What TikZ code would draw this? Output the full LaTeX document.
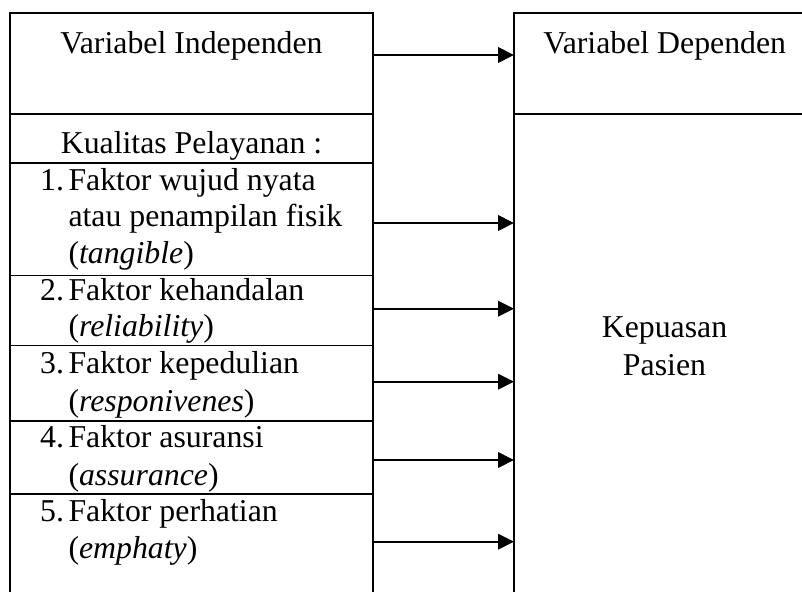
\documentclass[tikz,border=0pt]{standalone}
\usepackage{fontspec}
\setmainfont{Liberation Serif}
\usetikzlibrary{arrows.meta}
\begin{document}
\begin{tikzpicture}[x=1pt,y=-1pt,
  boxline/.style={line width=1.3pt,line cap=rect},
  conn/.style={line width=2pt,-{Triangle[length=16pt,width=15.5pt]}},
  txt/.style={inner sep=0pt,font=\fontsize{31.8}{36.8}\selectfont},
  lt/.style={txt,anchor=base west},
  ct/.style={txt,anchor=base}]
\useasboundingbox (0,0) rectangle (802,591);
% left column
\draw[boxline] (10,600) -- (10,13) -- (373,13) -- (373,600);
\draw[boxline] (10,114) -- (373,114);
\draw[boxline] (10,163) -- (373,163);
\draw[boxline] (10,275.7) -- (373,275.7);
\draw[boxline] (10,345.7) -- (373,345.7);
\draw[boxline] (10,421) -- (373,421);
\draw[boxline] (10,494) -- (373,494);
% right column
\draw[boxline] (514,600) -- (514,13) -- (810,13);
\draw[boxline] (514,114) -- (810,114);
% texts
\node[ct] (vi) at (191.5,53.3) {Variabel Independen};
\node[ct] (vd) at (664.7,53.3) {Variabel Dependen};
\node[ct] (kp) at (191.5,153.3) {Kualitas Pelayanan :};
\node[lt] (n1) at (40,190) {1.};
\node[lt] (a1) at (68.3,190) {Faktor wujud nyata};
\node[lt] (b1) at (68.3,226.5) {atau penampilan fisik};
\node[lt] (c1) at (68.3,263) {(\textit{tangible})};
\node[lt] (n2) at (40,300) {2.};
\node[lt] (a2) at (68.3,300) {Faktor kehandalan};
\node[lt] (b2) at (68.3,336.7) {(\textit{reliability})};
\node[lt] (n3) at (40,373.3) {3.};
\node[lt] (a3) at (68.3,373.3) {Faktor kepedulian};
\node[lt] (b3) at (68.3,411) {(\textit{responivenes})};
\node[lt] (n4) at (40,447.5) {4.};
\node[lt] (a4) at (68.3,447.5) {Faktor asuransi};
\node[lt] (b4) at (68.3,485) {(\textit{assurance})};
\node[lt] (n5) at (40,521.7) {5.};
\node[lt] (a5) at (68.3,521.7) {Faktor perhatian};
\node[lt] (b5) at (68.3,558.3) {(\textit{emphaty})};
\node[ct] (kep) at (664.5,337.7) {Kepuasan};
\node[ct] (pas) at (664.5,375) {Pasien};
% connector endpoints
\coordinate (s0) at (373,55);   \coordinate (e0) at (514,55);
\coordinate (s1) at (373,223);  \coordinate (e1) at (514,223);
\coordinate (s2) at (373,308.7);\coordinate (e2) at (514,308.7);
\coordinate (s3) at (373,381.7);\coordinate (e3) at (514,381.7);
\coordinate (s4) at (373,460);  \coordinate (e4) at (514,460);
\coordinate (s5) at (373,541.7);\coordinate (e5) at (514,541.7);
\foreach \i in {0,...,5} \draw[conn] (s\i) -- (e\i);
\end{tikzpicture}
\end{document}
